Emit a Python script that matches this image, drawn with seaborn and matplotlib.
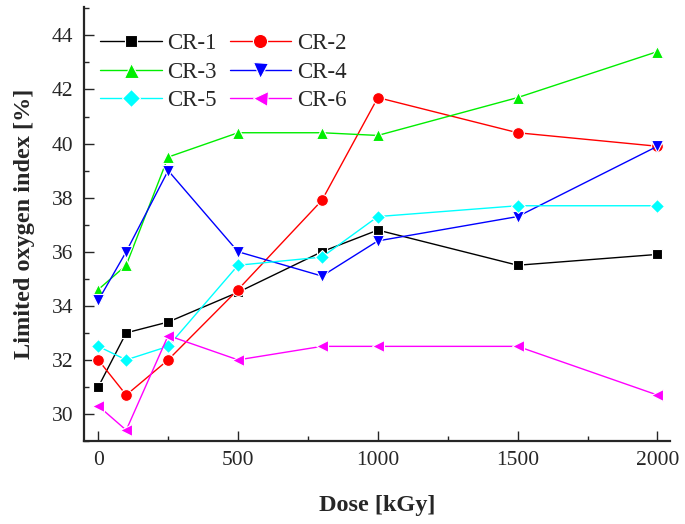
import matplotlib
matplotlib.use("Agg")
import matplotlib.pyplot as plt
from matplotlib.ticker import MultipleLocator
import seaborn as sns

# Irradiation dose [kGy]
dose = [0, 100, 250, 500, 800, 1000, 1500, 2000]

# Limited oxygen index [%] of each compound
cr1 = [31.0, 33.0, 33.4, 34.5, 36.0, 36.8, 35.5, 35.9]
cr2 = [32.0, 30.7, 32.0, 34.6, 37.9, 41.7, 40.4, 39.9]
cr3 = [34.6, 35.5, 39.5, 40.4, 40.4, 40.3, 41.7, 43.4]
cr4 = [34.2, 36.0, 39.0, 36.0, 35.1, 36.4, 37.3, 39.9]
cr5 = [32.5, 32.0, 32.5, 35.5, 35.8, 37.3, 37.7, 37.7]
cr6 = [30.3, 29.4, 32.9, 32.0, 32.5, 32.5, 32.5, 30.7]

labels = ["CR-1", "CR-2", "CR-3", "CR-4", "CR-5", "CR-6"]
series = [cr1, cr2, cr3, cr4, cr5, cr6]
colors = ["#000000", "#ff0000", "#00ee00", "#0000ff", "#00ffff", "#ff00ff"]
markers = ["s", "o", "^", "v", "D", "<"]
msizes = [7.5, 8.5, 9, 9, 7.5, 9]

sns.set_style("ticks")
plt.rcParams["font.family"] = ["Liberation Serif", "DejaVu Serif"]
plt.rcParams["font.serif"] = ["Liberation Serif", "DejaVu Serif"]
plt.rcParams["mathtext.fontset"] = "stix"

fig = plt.figure(figsize=(6.85, 5.24), dpi=100)
ax = fig.add_axes([84 / 685, 1 - 441 / 524, (670 - 84) / 685, (441 - 7) / 524])

for lab, vals, col, mk, ms in zip(labels, series, colors, markers, msizes):
    sns.lineplot(x=dose, y=vals, ax=ax, color=col, marker=mk, markersize=ms,
                 markeredgecolor="white", markeredgewidth=0.8,
                 linewidth=1.0, label=lab)

ax.set_xlim(-51, 2045)
ax.set_ylim(29, 45.05)
ax.xaxis.set_major_locator(MultipleLocator(500))
ax.xaxis.set_minor_locator(MultipleLocator(250))
ax.yaxis.set_major_locator(MultipleLocator(2))
ax.yaxis.set_minor_locator(MultipleLocator(1))
ax.yaxis.set_ticks([30, 32, 34, 36, 38, 40, 42, 44])

ax.tick_params(which="major", direction="in", length=7, width=1.0,
               labelsize=15.5, pad=7, labelfontfamily="Liberation Serif")
ax.tick_params(which="minor", direction="in", length=3.8, width=1.0)
ax.tick_params(axis="y", pad=7.5)

for side in ("top", "right"):
    ax.spines[side].set_visible(False)
for side in ("left", "bottom"):
    ax.spines[side].set_linewidth(1.6)

ax.set_xlabel("Dose [kGy]", fontsize=17.5, fontweight="bold", labelpad=18)
ax.set_ylabel("Limited oxygen index [%]", fontsize=17.5, fontweight="bold",
              labelpad=12)

handles, labs = ax.get_legend_handles_labels()
order = [0, 2, 4, 1, 3, 5]
ax.legend([handles[i] for i in order], [labs[i] for i in order],
          ncol=2, loc="upper left", bbox_to_anchor=(0.027, 0.94),
          frameon=False, fontsize=16.5, handlelength=2.7, handletextpad=0.25,
          columnspacing=0.55, labelspacing=0.33, borderpad=0, borderaxespad=0,
          markerscale=1.2)

fig.savefig("out.png", dpi=100)
